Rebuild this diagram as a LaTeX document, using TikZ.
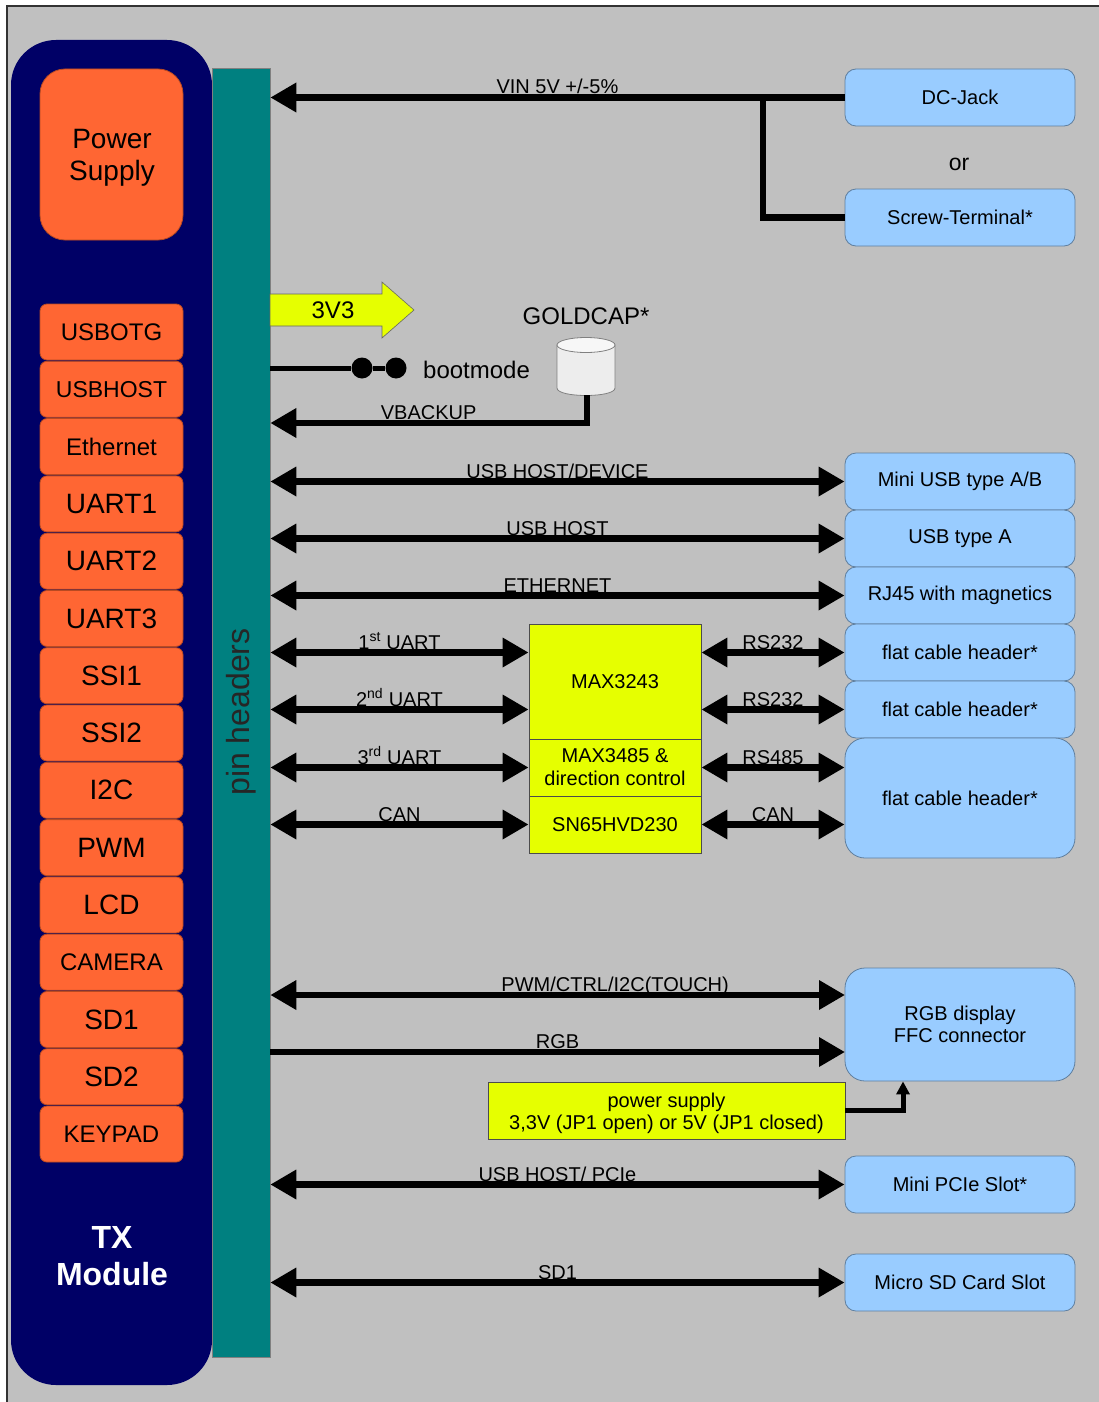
\documentclass[tikz,border=0pt]{standalone}
\usepackage{fontspec}
\setmainfont{Liberation Sans}
\usetikzlibrary{arrows.meta,calc}
\definecolor{bggray}{HTML}{C0C0C0}
\definecolor{navy}{HTML}{000066}
\definecolor{tealc}{HTML}{008080}
\definecolor{orangec}{HTML}{FF6633}
\definecolor{bluec}{HTML}{99CCFF}
\definecolor{bluedge}{HTML}{5F7F9F}
\definecolor{yellowc}{HTML}{E6FF00}
\definecolor{orangedge}{HTML}{B84A22}
\newcommand{\fs}[1]{\fontsize{#1}{#1}\selectfont}
\begin{document}
\begin{tikzpicture}[x=1pt,y=-1pt,
  obox/.style={draw=orangedge, line width=0.8pt, fill=orangec, rounded corners=7pt,
    minimum width=143pt, minimum height=56pt, inner sep=0pt},
  bbox/.style={draw=bluedge, line width=0.8pt, fill=bluec, rounded corners=11pt,
    minimum width=230pt, minimum height=57pt, inner sep=0pt, font=\fs{20}, align=center},
  ybox/.style={draw=black!70, line width=0.8pt, fill=yellowc, minimum width=172pt,
    inner sep=0pt, font=\fs{20}, align=center},
  conn/.style={line width=6.5pt, >={Triangle[length=26pt,width=28pt]}},
  lbl/.style={font=\fs{20}, anchor=base, yshift=3.5pt, inner sep=0pt}]
\useasboundingbox (0,0) rectangle (1099,1402);
\fill[white] (0,0) rectangle (1099,1402);
\fill[bggray] (7,6) rectangle (1099,1402);
\draw[black!80, line width=1.2pt] (7,1402) -- (7,6) -- (1099,6);

% module
\node[fill=navy, rounded corners=45pt, minimum width=201pt, minimum height=1345pt, inner sep=0pt] (tx) at (111.5,712.5) {};
\node[fill=tealc, draw=black!50, line width=0.6pt, minimum width=58pt, minimum height=1289pt, inner sep=0pt] (pins) at (241,712.5) {};
\node[rotate=90, font=\fs{32}, text=black!85] (pinlbl) at (241,712) {pin headers};
\node[text=white, font=\bfseries\fontsize{32}{37}\selectfont, align=center] (txlbl) at (112,1256) {TX\\Module};
\node[obox, rounded corners=25pt, minimum height=171pt] (psu) at (111.5,154.5) {};
\node[font=\fontsize{28}{32}\selectfont, align=center] (psulbl) at (112,158) {Power\\Supply};
\foreach \t/\s [count=\i] in {USBOTG/24,USBHOST/23,Ethernet/24,UART1/28,UART2/28,UART3/28,SSI1/28,SSI2/28,I2C/28,PWM/28,LCD/28,CAMERA/24,SD1/28,SD2/28,KEYPAD/24}
  \node[obox, font=\fs{\s}] (o\i) at (111.5,{332+(\i-1)*57.29}) {\t};

% right boxes
\node[bbox] (dc) at (960,97.5) {DC-Jack};
\node[bbox] (scr) at (960,217.5) {Screw-Terminal*};
\node[font=\fs{23}] (or) at (959,164) {or};
\node[bbox] (mini) at (960,481.5) {Mini USB type A/B};
\node[bbox] (usba) at (960,538.5) {USB type A};
\node[bbox] (rj) at (960,595.5) {RJ45 with magnetics};
\node[bbox] (fc1) at (960,652.5) {flat cable header*};
\node[bbox] (fc2) at (960,709.5) {flat cable header*};
\node[bbox, minimum height=120pt, rounded corners=20pt] (fc3) at (960,798) {flat cable header*};
\node[bbox, minimum height=113pt, rounded corners=20pt, font=\fontsize{20}{22}\selectfont] (rgbd) at (960,1024.5) {RGB display\\FFC connector};
\node[bbox] (pcie) at (960,1184.5) {Mini PCIe Slot*};
\node[bbox] (sd) at (960,1282.5) {Micro SD Card Slot};

% yellow transceivers
\node[ybox, minimum height=115pt] (max3243) at (615,681.5) {MAX3243};
\node[ybox, minimum height=57pt, font=\fontsize{20}{23}\selectfont] (max3485) at (615,767.5) {MAX3485 \&\\direction control};
\node[ybox, minimum height=57pt] (sn65) at (615,824.5) {SN65HVD230};
\node[ybox, minimum width=357pt, minimum height=57pt] (psup) at (666.5,1110.5) {};
\node[font=\fontsize{20}{22}\selectfont, align=center] (psuplbl) at (666.5,1113) {power supply\\3,3V (JP1 open) or 5V (JP1 closed)};

% power in
\coordinate (br) at (763,0 |- dc.west);
\draw[conn,->] (dc.west) -- (pins.east |- dc.west) node[lbl,midway] {VIN 5V +/-5\%};
\draw[conn] (scr.west) -| (br);

% 3V3
\draw[black!60, line width=0.6pt, fill=yellowc] (270,294) -- (382,294) -- (382,282) -- (414,310) -- (382,338) -- (382,326) -- (270,326) -- cycle;
\node[font=\fs{24}] (v33) at (333,310) {3V3};

% bootmode
\node[circle, fill=black, minimum size=21pt, inner sep=0pt] (d1) at (362,368) {};
\node[circle, fill=black, minimum size=21pt, inner sep=0pt] (d2) at (396,368) {};
\draw[line width=5pt] (pins.east |- d1) -- (d1) -- (d2);
\node[font=\fs{24}, anchor=west, inner sep=0pt] (boot) at (423,370) {bootmode};

% goldcap
\node[font=\fs{24}] (gcl) at (586,316) {GOLDCAP*};
\draw[gray, line width=0.8pt, fill=black!7] (557,345) -- (557,388) .. controls (557,398) and (615,398) .. (615,388) -- (615,345) -- cycle;
\draw[gray, line width=0.8pt, fill=black!3] (586,345) ellipse [x radius=29, y radius=7.5];
\coordinate (capb) at (587,395);
\draw[conn,->] (capb) |- (pins.east |- 0,423) node[lbl,pos=0.75] {VBACKUP};

% buses
\draw[conn,<->] (pins.east |- mini.west) -- (mini.west) node[lbl,midway] {USB HOST/DEVICE};
\draw[conn,<->] (pins.east |- usba.west) -- (usba.west) node[lbl,midway] {USB HOST};
\draw[conn,<->] (pins.east |- rj.west) -- (rj.west) node[lbl,midway] {ETHERNET};

\draw[conn,<->] (pins.east |- fc1.west) -- (max3243.west |- fc1.west) node[lbl,midway] {1\textsuperscript{st} UART};
\draw[conn,<->] (pins.east |- fc2.west) -- (max3243.west |- fc2.west) node[lbl,midway] {2\textsuperscript{nd} UART};
\draw[conn,<->] (pins.east |- max3485.west) -- (max3485.west) node[lbl,midway] {3\textsuperscript{rd} UART};
\draw[conn,<->] (pins.east |- sn65.west) -- (sn65.west) node[lbl,midway] {CAN};

\draw[conn,<->] (max3243.east |- fc1.west) -- (fc1.west) node[lbl,midway] {RS232};
\draw[conn,<->] (max3243.east |- fc2.west) -- (fc2.west) node[lbl,midway] {RS232};
\draw[conn,<->] (max3485.east) -- (fc3.west |- max3485.east) node[lbl,midway] {RS485};
\draw[conn,<->] (sn65.east) -- (fc3.west |- sn65.east) node[lbl,midway] {CAN};

\coordinate (rgbA) at (845,995);
\coordinate (rgbB) at (845,1052);
\draw[conn,<->] (pins.east |- rgbA) -- (rgbA) node[lbl,pos=0.6] {PWM/CTRL/I2C(TOUCH)};
\draw[conn,->] (pins.east |- rgbB) -- (rgbB) node[lbl,midway] {RGB};
\draw[line width=5pt, -{Triangle[length=13pt,width=13pt]}] (psup.east) -| (903,0 |- rgbd.south);

\draw[conn,<->] (pins.east |- pcie.west) -- (pcie.west) node[lbl,midway] {USB HOST/ PCIe};
\draw[conn,<->] (pins.east |- sd.west) -- (sd.west) node[lbl,midway] {SD1};
\end{tikzpicture}
\end{document}
